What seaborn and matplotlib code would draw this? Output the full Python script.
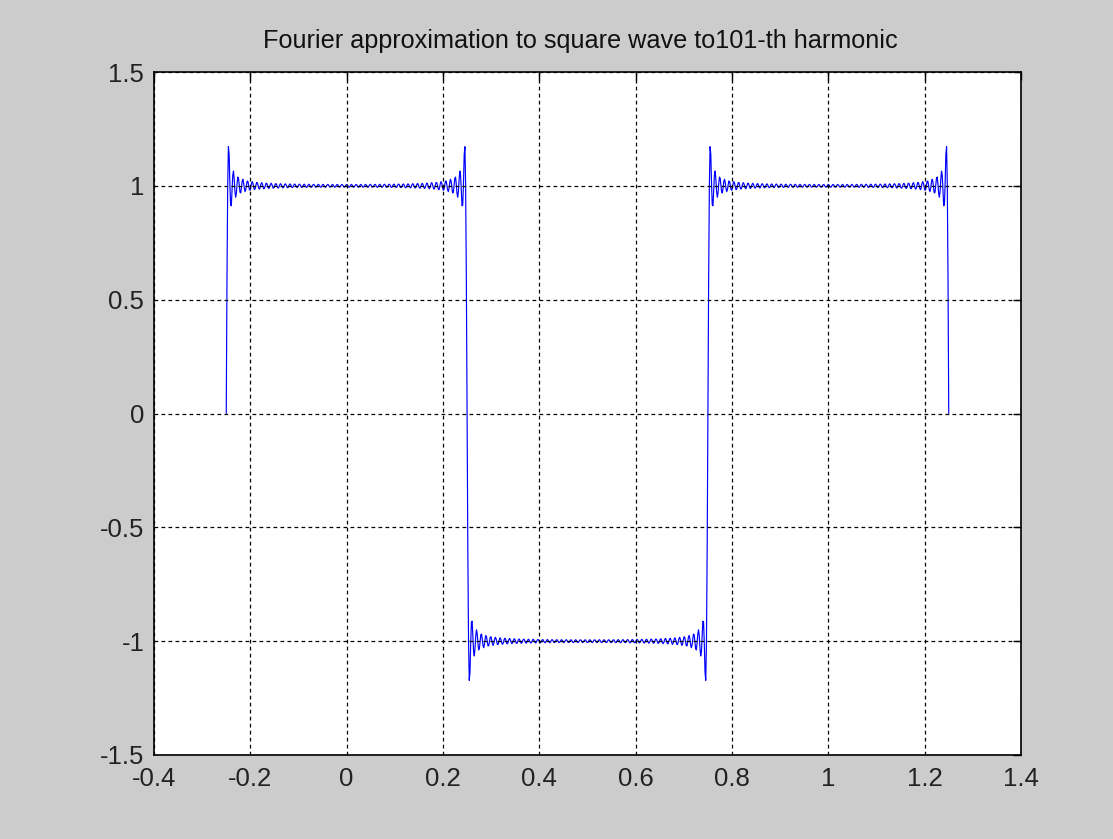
import numpy as np
import pandas as pd
import matplotlib
matplotlib.use("Agg")
import matplotlib.pyplot as plt
import seaborn as sns

# Chart parameters (as stated in title and shown on axes)
title_text = "Fourier approximation to square wave to101-th harmonic"
x_start, x_end, n_samples = -0.25, 1.25, 1000
max_harmonic = 101
x_ticks = [-0.4, -0.2, 0, 0.2, 0.4, 0.6, 0.8, 1, 1.2, 1.4]
x_tick_labels = ["-0.4", "-0.2", "0", "0.2", "0.4", "0.6", "0.8", "1", "1.2", "1.4"]
y_ticks = [-1.5, -1, -0.5, 0, 0.5, 1, 1.5]
y_tick_labels = ["-1.5", "-1", "-0.5", "0", "0.5", "1", "1.5"]

# The plotted curve is the Fourier partial sum named in the title
t = np.linspace(x_start, x_end, n_samples)
harmonics = np.arange(1, max_harmonic + 1, 2)
signs = (-1) ** ((harmonics - 1) // 2)
y = (4 / np.pi) * np.sum(signs[:, None] * np.cos(2 * np.pi * harmonics[:, None] * t[None, :]) / harmonics[:, None], axis=0)
df = pd.DataFrame({"t": t, "y": y})

sns.set_theme(style="white")
plt.rcParams["font.family"] = ["Liberation Sans", "DejaVu Sans"]

fig = plt.figure(figsize=(11.13, 8.39), dpi=100, facecolor="#cccccc")
ax = fig.add_axes([154 / 1113, 1 - 755 / 839, (1021 - 154) / 1113, (755 - 72) / 839])
ax.set_facecolor("white")

sns.lineplot(data=df, x="t", y="y", ax=ax, color="#0000ff", linewidth=0.85,
             estimator=None, sort=False)

ax.set_xlim(-0.4, 1.4)
ax.set_ylim(-1.5, 1.5)
ax.set_xticks(x_ticks)
ax.set_xticklabels(x_tick_labels)
ax.set_yticks(y_ticks)
ax.set_yticklabels(y_tick_labels)
ax.set_xlabel("")
ax.set_ylabel("")

ax.grid(True, color="black", linestyle=(0, (3, 2.6)), linewidth=0.9)
ax.set_axisbelow(False)
for s in ax.spines.values():
    s.set_visible(True)
    s.set_color("black")
    s.set_linewidth(1.2)
ax.tick_params(axis="both", direction="in", length=6, width=1, colors="black",
               labelsize=18.5, top=True, right=True, labelcolor="#222222")
ax.tick_params(axis="x", pad=8.5)
ax.tick_params(axis="y", pad=7)
ax.set_title(title_text, fontsize=18.2, color="#111111", pad=17)
ax.title.set_x(0.492)

fig.savefig("out.png", dpi=100, facecolor=fig.get_facecolor())
